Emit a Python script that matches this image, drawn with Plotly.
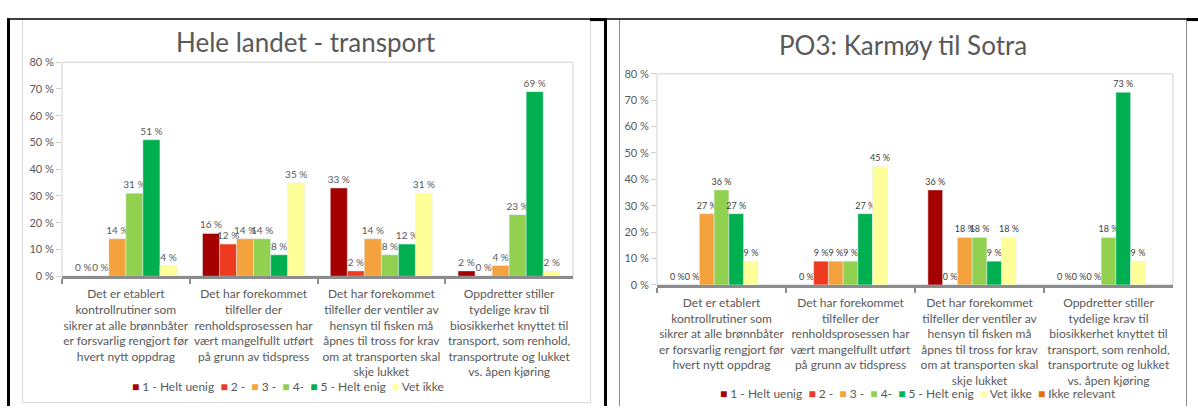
import plotly.graph_objects as go

W, H = 1198, 412

# Survey statements (category axis labels)
categories = [
    "Det er etablert<br>kontrollrutiner som<br>sikrer at alle brønnbåter<br>er forsvarlig rengjort før<br>hvert nytt oppdrag",
    "Det har forekommet<br>tilfeller der<br>renholdsprosessen har<br>vært mangelfullt utført<br>på grunn av tidspress",
    "Det har forekommet<br>tilfeller der ventiler av<br>hensyn til fisken må<br>åpnes til tross for krav<br>om at transporten skal<br>skje lukket",
    "Oppdretter stiller<br>tydelige krav til<br>biosikkerhet knyttet til<br>transport, som renhold,<br>transportrute og lukket<br>vs. åpen kjøring",
]

series_names = ["1 - Helt uenig", "2 -", "3 -", "4-", "5 - Helt enig", "Vet ikke", "Ikke relevant"]
series_colors = ["#A50000", "#EE3A1E", "#F4A23C", "#92D050", "#00B050", "#FFFF99", "#E46C0A"]

# Hele landet - transport (percent per answer option)
hele_uenig = [0, 16, 33, 2]
hele_2 = [0, 12, 2, 0]
hele_3 = [14, 14, 14, 4]
hele_4 = [31, 14, 8, 23]
hele_enig = [51, 8, 12, 69]
hele_vetikke = [4, 35, 31, 2]

# PO3: Karmøy til Sotra (percent per answer option)
po3_uenig = [0, 0, 36, 0]
po3_2 = [0, 9, 0, 0]
po3_3 = [27, 9, 18, 0]
po3_4 = [36, 9, 18, 18]
po3_enig = [27, 27, 9, 73]
po3_vetikke = [9, 45, 18, 9]
po3_ikke_relevant = [None, None, None, None]

left_series = [hele_uenig, hele_2, hele_3, hele_4, hele_enig, hele_vetikke]
right_series = [po3_uenig, po3_2, po3_3, po3_4, po3_enig, po3_vetikke, po3_ikke_relevant]

FONT = "Lato"
GREY = "#595959"


def px(x):
    return x / W


def py(y):
    return 1 - y / H


def pct_labels(vals):
    return ["" if v is None else f"{v} %" for v in vals]


fig = go.Figure()

for i, vals in enumerate(left_series):
    fig.add_trace(go.Bar(
        x=categories, y=vals, name=series_names[i], marker_color=series_colors[i],
        text=pct_labels(vals), textposition="outside", cliponaxis=False,
        constraintext="none", textfont=dict(family=FONT, size=10, color=GREY),
        xaxis="x", yaxis="y", showlegend=False,
    ))

for i, vals in enumerate(right_series):
    fig.add_trace(go.Bar(
        x=categories, y=vals, name=series_names[i], marker_color=series_colors[i],
        text=pct_labels(vals), textposition="outside", cliponaxis=False,
        constraintext="none", textfont=dict(family=FONT, size=9, color="#404040"),
        xaxis="x2", yaxis="y2", showlegend=False,
    ))

xaxis_style = dict(
    type="category", showline=True, linecolor="#8C8C8C", linewidth=2.5,
    ticks="outside", tickson="boundaries", ticklen=5, tickcolor="#8C8C8C", tickwidth=2,
    tickangle=0, ticklabelstandoff=5, tickfont=dict(family=FONT, size=12, color=GREY),
    showgrid=False, zeroline=False, fixedrange=True,
)
yaxis_style = dict(
    range=[0, 80], dtick=10, ticksuffix=" %", ticks="outside", ticklen=5,
    tickcolor="#D0D0D0", tickfont=dict(family=FONT, size=11, color=GREY),
    showgrid=False, zeroline=False, showline=False, fixedrange=True,
)

fig.update_layout(
    width=W, height=H, margin=dict(l=0, r=0, t=0, b=0),
    paper_bgcolor="white", plot_bgcolor="white",
    barmode="group", bargap=0.2, bargroupgap=0,
    font=dict(family=FONT, color=GREY),
    xaxis=dict(domain=[px(62), px(573)], anchor="y", **xaxis_style),
    yaxis=dict(domain=[py(278), py(57)], anchor="x", **yaxis_style),
    xaxis2=dict(domain=[px(657), px(1173)], anchor="y2", **xaxis_style),
    yaxis2=dict(domain=[py(287), py(69)], anchor="x2", **yaxis_style),
)

shapes = []
# plot-area borders
for xr, yr in (("x domain", "y domain"), ("x2 domain", "y2 domain")):
    shapes.append(dict(type="rect", xref=xr, yref=yr, x0=0, x1=1, y0=0, y1=1,
                       line=dict(color="#D0D0D0", width=1), layer="below"))


def hline(x0, x1, y, color, width):
    shapes.append(dict(type="line", xref="paper", yref="paper", x0=px(x0), x1=px(x1),
                       y0=py(y), y1=py(y), line=dict(color=color, width=width)))


def vline(x, y0, y1, color, width):
    shapes.append(dict(type="line", xref="paper", yref="paper", x0=px(x), x1=px(x),
                       y0=py(y0), y1=py(y1), line=dict(color=color, width=width)))


# chart image frames
vline(22.5, 12, 408.5, "#D9D9D9", 1)
vline(590.5, 12, 408.5, "#D9D9D9", 1)
hline(22.5, 590.5, 408.5, "#D9D9D9", 1)
vline(619.5, 12, 412, "#8C8C8C", 1)
vline(1186.5, 12, 412, "#8C8C8C", 1)

# table borders
hline(7, 1198, 12.5, "black", 1.5)
hline(590, 607, 13, "black", 3)
hline(1187, 1198, 13, "black", 3)
vline(8.5, 12, 412, "black", 3)
vline(605.5, 12, 412, "black", 3)

annotations = [
    dict(text="Hele landet - transport", x=px(306), y=py(36), xref="paper", yref="paper",
         showarrow=False, xanchor="center", yanchor="middle",
         font=dict(family=FONT, size=26, color=GREY)),
    dict(text="PO3: Karmøy til Sotra", x=px(903), y=py(39), xref="paper", yref="paper",
         showarrow=False, xanchor="center", yanchor="middle",
         font=dict(family=FONT, size=26, color=GREY)),
]


def legend_text(n):
    parts = []
    for name, color in zip(series_names[:n], series_colors[:n]):
        parts.append(f'<span style="color:{color}">■</span>&nbsp;{name}')
    return "&nbsp;&nbsp;".join(parts)


annotations.append(dict(text=legend_text(6), x=px(288), y=py(392), xref="paper", yref="paper",
                        showarrow=False, xanchor="center", yanchor="middle",
                        font=dict(family=FONT, size=12, color=GREY)))
annotations.append(dict(text=legend_text(7), x=px(918), y=py(399), xref="paper", yref="paper",
                        showarrow=False, xanchor="center", yanchor="middle",
                        font=dict(family=FONT, size=12, color=GREY)))

fig.update_layout(shapes=shapes, annotations=annotations)

fig.write_html("out.html")
